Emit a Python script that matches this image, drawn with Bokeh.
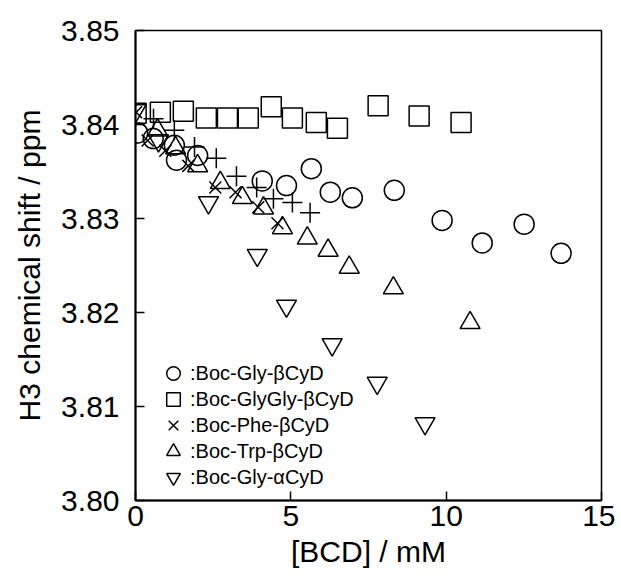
from bokeh.plotting import figure
from bokeh.models import FixedTicker, PrintfTickFormatter, Range1d, Legend, LegendItem
from bokeh.embed import file_html
from bokeh.resources import INLINE

# ---- data ----
gly_b_x = [0.07, 0.57, 1.25, 1.32, 2.0, 4.08, 4.86, 5.66, 6.27, 6.98, 8.33, 9.87, 11.16, 12.51, 13.70]
gly_b_y = [3.8391, 3.8385, 3.8378, 3.8362, 3.8367, 3.8340, 3.8335, 3.8353, 3.8328, 3.8322, 3.8330, 3.8298, 3.8274, 3.8294, 3.8263]

glygly_x = [0.02, 0.80, 1.54, 2.28, 2.96, 3.63, 4.37, 5.05, 5.82, 6.50, 7.81, 9.13, 10.48]
glygly_y = [3.8412, 3.8413, 3.8414, 3.8407, 3.8407, 3.8407, 3.8419, 3.8407, 3.8402, 3.8396, 3.8420, 3.8409, 3.8402]

phe_x = [0.02, 0.39, 0.96, 1.70, 2.57, 3.22, 3.95, 4.57]
phe_y = [3.8413, 3.8383, 3.8372, 3.8356, 3.8333, 3.8328, 3.8312, 3.8295]

trp_x = [0.71, 1.29, 2.00, 2.73, 3.44, 4.12, 4.73, 5.53, 6.20, 6.88, 8.30, 10.77]
trp_y = [3.8394, 3.8375, 3.8356, 3.8338, 3.8322, 3.8311, 3.8290, 3.8279, 3.8266, 3.8248, 3.8226, 3.8189]

gly_a_x = [0.02, 0.74, 2.35, 3.92, 4.86, 6.33, 7.78, 9.32]
gly_a_y = [3.8415, 3.8383, 3.8317, 3.8261, 3.8207, 3.8166, 3.8125, 3.8082]

plus_x = [0.58, 1.25, 1.90, 2.60, 3.25, 3.90, 4.44, 5.05, 5.62]
plus_y = [3.8406, 3.8394, 3.8376, 3.8364, 3.8345, 3.8333, 3.8321, 3.8317, 3.8306]

x_ticks = [0, 5, 10, 15]
y_ticks = [3.80, 3.81, 3.82, 3.83, 3.84, 3.85]

labels = [":Boc-Gly-\u03b2CyD", ":Boc-GlyGly-\u03b2CyD", ":Boc-Phe-\u03b2CyD",
          ":Boc-Trp-\u03b2CyD", ":Boc-Gly-\u03b1CyD"]

FONT = "Liberation Sans"

p = figure(width=615, height=581, output_backend="svg", toolbar_location=None,
           x_range=Range1d(0, 15), y_range=Range1d(3.80, 3.85),
           min_border_left=135, min_border_right=14, min_border_top=30, min_border_bottom=81,
           background_fill_color="white", border_fill_color="white")
p.grid.visible = False
p.outline_line_color = "black"
p.outline_line_width = 1.5

common = dict(fill_color=None, line_color="black", line_width=1.5)
r1 = p.scatter(gly_b_x, gly_b_y, marker="circle", size=20, **common)
r2 = p.scatter(glygly_x, glygly_y, marker="square", size=20, **common)
r3 = p.scatter(phe_x, phe_y, marker="x", size=17, **common)
r4 = p.scatter(trp_x, trp_y, marker="triangle", size=20, **common)
r5 = p.scatter(gly_a_x, gly_a_y, marker="inverted_triangle", size=20, **common)
p.scatter(plus_x, plus_y, marker="cross", size=20, **common)

for ax in (p.xaxis[0], p.yaxis[0]):
    ax.axis_line_width = 2
    ax.major_tick_in = 9
    ax.major_tick_out = 0
    ax.major_tick_line_width = 1.5
    ax.minor_tick_in = 0
    ax.minor_tick_out = 0
    ax.major_label_text_font = FONT
    ax.major_label_text_font_size = "30px"
    ax.major_label_text_color = "black"
    ax.axis_label_text_font = FONT
    ax.axis_label_text_font_size = "30px"
    ax.axis_label_text_font_style = "normal"
    ax.axis_label_text_color = "black"

p.xaxis.ticker = FixedTicker(ticks=x_ticks)
p.xaxis.formatter = PrintfTickFormatter(format="%d")
p.xaxis.axis_label = "[BCD] / mM"
p.xaxis.major_label_standoff = 5
p.xaxis.axis_label_standoff = 6

p.yaxis.ticker = FixedTicker(ticks=y_ticks)
p.yaxis.formatter = PrintfTickFormatter(format="%.2f")
p.yaxis.axis_label = "H3 chemical shift / ppm"
p.yaxis.major_label_standoff = 16
p.yaxis.axis_label_standoff = 12


def make_legend(items, loc):
    lg = Legend(items=items, location=loc)
    lg.background_fill_alpha = 0
    lg.border_line_color = None
    lg.padding = 0
    lg.margin = 0
    lg.glyph_width = 34
    lg.glyph_height = 38
    lg.label_height = 38
    lg.spacing = 14
    lg.label_standoff = 0
    lg.label_text_font = FONT
    lg.label_text_font_size = "20px"
    lg.label_text_color = "black"
    return lg


# two interleaved legends so that rows sit 26px apart with readable markers
legA = make_legend([LegendItem(label=labels[0], renderers=[r1]),
                    LegendItem(label=labels[2], renderers=[r3]),
                    LegendItem(label=labels[4], renderers=[r5])], (21, 4))
legB = make_legend([LegendItem(label=labels[1], renderers=[r2]),
                    LegendItem(label=labels[3], renderers=[r4])], (21, 30))
p.add_layout(legA)
p.add_layout(legB)

open("out.html", "w").write(file_html(p, INLINE))
